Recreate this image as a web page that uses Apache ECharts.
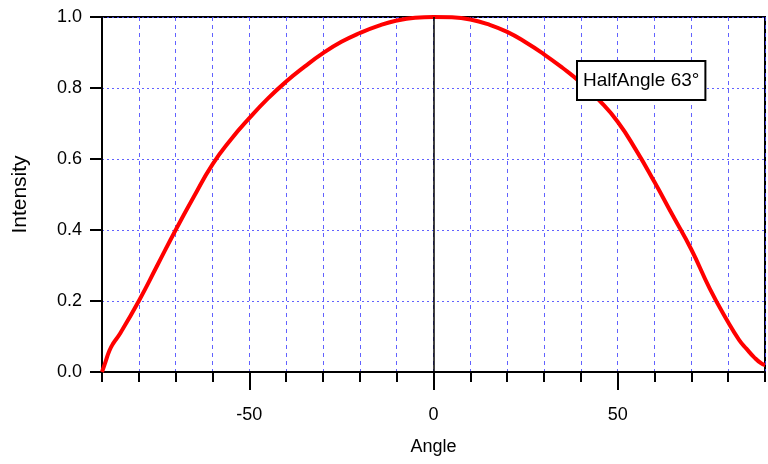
<!DOCTYPE html>
<html>
<head>
<meta charset="utf-8">
<script src="https://cdn.jsdelivr.net/npm/echarts@6/dist/echarts.min.js"></script>
<style>
  html, body { margin: 0; padding: 0; background: #fff; }
  #chart { width: 768px; height: 464px; }
</style>
</head>
<body>
<div id="chart"></div>
<script>
// Angular intensity profile (normalised), angle in degrees
const angles = [-90, -89, -88, -87, -85, -80, -75, -70, -65, -60, -55, -50, -45, -40, -35, -30, -25, -20, -15, -10, -5,
  0, 5, 10, 15, 20, 25, 30, 35, 40, 45, 50, 55, 60, 65, 70, 75, 80, 83, 85, 87, 89, 90];
const intensity = [0.0, 0.03, 0.06, 0.08, 0.11, 0.20, 0.30, 0.40, 0.495, 0.585, 0.655, 0.715, 0.77, 0.818, 0.86, 0.898, 0.93, 0.955, 0.975, 0.99, 0.998,
  1.0, 0.999, 0.993, 0.979, 0.958, 0.929, 0.895, 0.857, 0.815, 0.765, 0.705, 0.625, 0.535, 0.44, 0.345, 0.235, 0.14, 0.09, 0.065, 0.042, 0.024, 0.02];
const majorAngleTicks = [-50, 0, 50];
const annotationText = 'HalfAngle 63°';

const FONT = "'Liberation Sans', Arial, Helvetica, sans-serif";
const gridBlue = 'rgba(70, 70, 255, 0.85)';

const chart = echarts.init(document.getElementById('chart'), null, { renderer: 'canvas' });

const points = angles.map((a, i) => [a, intensity[i]]);

chart.setOption({
  animation: false,
  backgroundColor: '#ffffff',
  grid: {
    left: 102, right: 3, top: 17, bottom: 92,
    show: true, borderColor: '#000', borderWidth: 2, backgroundColor: 'transparent'
  },
  xAxis: [
    {
      // minor ticks and vertical grid every 10 degrees
      type: 'value', min: -90, max: 90, interval: 10,
      position: 'bottom',
      axisLine: { show: true, onZero: false, lineStyle: { color: '#000', width: 2 } },
      axisTick: { show: true, inside: false, length: 10, lineStyle: { color: '#000', width: 2 } },
      axisLabel: { show: false },
      splitLine: { show: true, lineStyle: { color: gridBlue, width: 1, type: [4, 4] } }
    },
    {
      // major ticks and labels
      type: 'value', min: -90, max: 90,
      position: 'bottom',
      name: 'Angle', nameLocation: 'middle', nameGap: 66,
      nameTextStyle: { fontFamily: FONT, fontSize: 18, color: '#000' },
      axisLine: { show: false, onZero: false },
      axisTick: { show: true, length: 18, customValues: majorAngleTicks, lineStyle: { color: '#000', width: 2 } },
      axisLabel: { show: true, customValues: majorAngleTicks, margin: 34, fontFamily: FONT, fontSize: 18, color: '#000' },
      splitLine: { show: false }
    }
  ],
  yAxis: {
    type: 'value', min: 0, max: 1, interval: 0.2,
    name: 'Intensity', nameLocation: 'middle', nameGap: 71, nameRotate: 90,
    nameTextStyle: { fontFamily: FONT, fontSize: 21, color: '#000' },
    axisLine: { show: true, onZero: false, lineStyle: { color: '#000', width: 2 } },
    axisTick: { show: true, length: 12, lineStyle: { color: '#000', width: 2 } },
    axisLabel: {
      margin: 20, fontFamily: FONT, fontSize: 18, color: '#000',
      formatter: v => v.toFixed(1)
    },
    splitLine: { show: true, lineStyle: { color: gridBlue, width: 1, type: [2, 3] } }
  },
  series: [
    {
      type: 'line',
      xAxisIndex: 0,
      data: points,
      smooth: 0.5,
      showSymbol: false,
      clip: true,
      lineStyle: { color: '#ff0000', width: 4 },
      markLine: {
        silent: true,
        symbol: ['none', 'none'],
        label: { show: false },
        lineStyle: { color: '#000', width: 1.5, type: 'solid' },
        data: [{ xAxis: 0 }]
      },
      z: 3
    }
  ],
  graphic: [
    {
      type: 'text',
      x: 578, y: 62, z: 10,
      style: {
        text: annotationText,
        fontFamily: FONT, fontSize: 19, fill: '#000',
        backgroundColor: '#fff', borderColor: '#000', borderWidth: 2,
        padding: [9, 5, 9, 5]
      }
    }
  ]
});
</script>
</body>
</html>
